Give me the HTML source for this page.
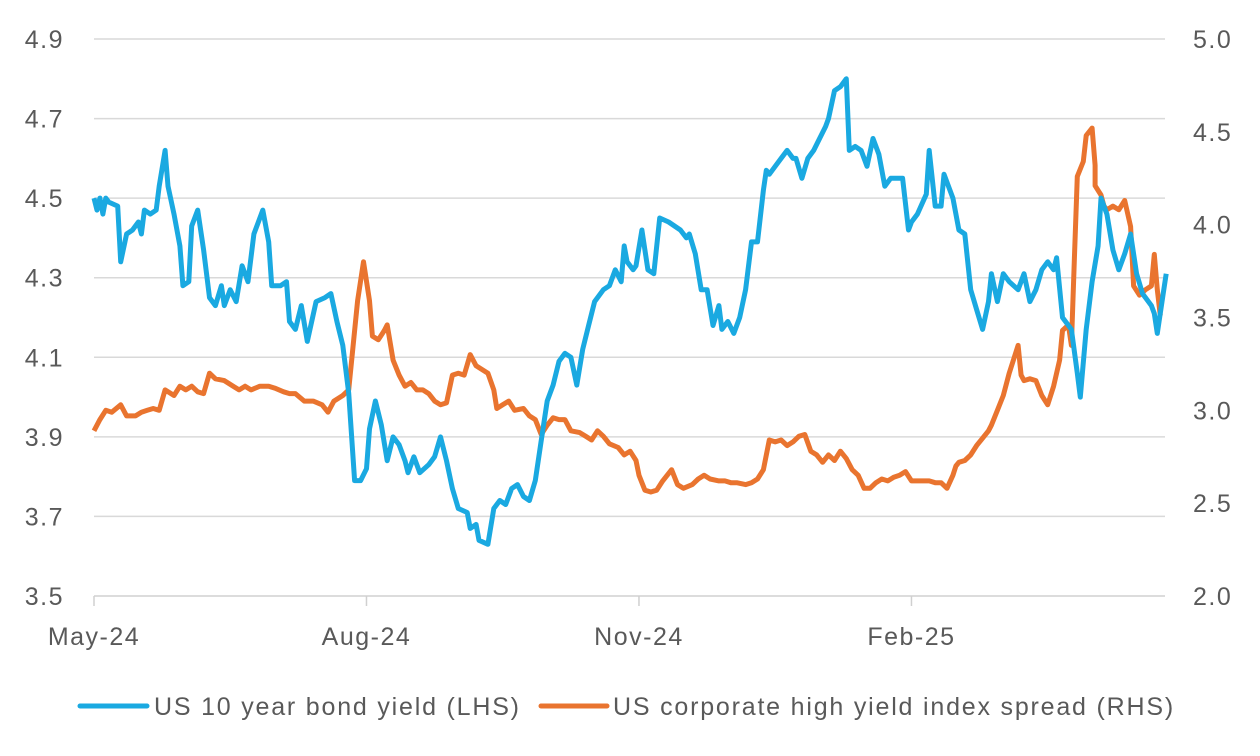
<!DOCTYPE html>
<html><head><meta charset="utf-8"><style>
html,body{margin:0;padding:0;background:#fff;width:1260px;height:756px;overflow:hidden}
svg text{font-family:"Liberation Sans",sans-serif;fill:#595959}
</style></head><body>
<svg id="chart" width="1260" height="756" xmlns="http://www.w3.org/2000/svg">
<g id="grid"></g>
<g id="axes"></g>
<g id="series"></g>
<g>
<line x1="80" y1="706" x2="147" y2="706" stroke="#1aa9e1" stroke-width="5" stroke-linecap="round"/>
<text x="154" y="715" font-size="25" letter-spacing="1.8">US 10 year bond yield (LHS)</text>
<line x1="541" y1="706" x2="607" y2="706" stroke="#e9742f" stroke-width="5" stroke-linecap="round"/>
<text x="613" y="715" font-size="25" letter-spacing="1.8">US corporate high yield index spread (RHS)</text>
</g>
</svg>
<script>
const leftTicks=[3.5,3.7,3.9,4.1,4.3,4.5,4.7,4.9];
const rightTicks=[2.0,2.5,3.0,3.5,4.0,4.5,5.0];
const monthLabels=["May-24","Aug-24","Nov-24","Feb-25"];
const monthDays=[0,92,184,276];
const blueDays=[0,1,2,3,4,5,8,9,11,13,15,16,17,19,21,22,24,25,27,29,30,32,33,35,37,39,41,43,44,46,48,50,52,54,57,59,60,63,65,66,68,70,72,75,78,80,82,84,86,88,90,92,93,95,97,99,101,103,105,106,108,110,113,115,117,119,121,123,126,127,129,130,133,135,137,139,141,143,145,147,149,151,153,155,157,159,161,163,165,167,169,172,174,176,178,179,180,182,183,185,187,189,191,194,196,198,200,201,203,205,207,209,211,212,214,216,218,220,222,224,226,227,228,230,232,234,236,237,239,241,243,245,247,248,250,252,254,255,257,259,261,263,265,267,269,271,273,275,276,278,281,282,284,286,287,290,292,294,296,298,300,302,303,305,307,309,312,314,316,318,320,322,324,325,327,330,332,333,335,337,339,340,342,344,346,348,350,352,354,357,358,359,361,362];
const blueVals=[4.50,4.47,4.50,4.46,4.50,4.49,4.48,4.34,4.41,4.42,4.44,4.41,4.47,4.46,4.47,4.53,4.62,4.53,4.46,4.38,4.28,4.29,4.43,4.47,4.37,4.25,4.23,4.28,4.23,4.27,4.24,4.33,4.29,4.41,4.47,4.39,4.28,4.28,4.29,4.19,4.17,4.23,4.14,4.24,4.25,4.26,4.19,4.13,4.01,3.79,3.79,3.82,3.92,3.99,3.93,3.84,3.90,3.88,3.84,3.81,3.85,3.81,3.83,3.85,3.90,3.84,3.77,3.72,3.71,3.67,3.68,3.64,3.63,3.72,3.74,3.73,3.77,3.78,3.75,3.74,3.79,3.89,3.99,4.03,4.09,4.11,4.10,4.03,4.12,4.18,4.24,4.27,4.28,4.32,4.29,4.38,4.34,4.32,4.33,4.42,4.32,4.31,4.45,4.44,4.43,4.42,4.40,4.41,4.36,4.27,4.27,4.18,4.23,4.17,4.19,4.16,4.20,4.27,4.39,4.39,4.52,4.57,4.56,4.58,4.60,4.62,4.60,4.60,4.55,4.60,4.62,4.65,4.68,4.70,4.77,4.78,4.80,4.62,4.63,4.62,4.58,4.65,4.61,4.53,4.55,4.55,4.55,4.42,4.44,4.46,4.51,4.62,4.48,4.48,4.56,4.50,4.42,4.41,4.27,4.22,4.17,4.24,4.31,4.24,4.31,4.29,4.27,4.31,4.24,4.27,4.32,4.34,4.32,4.35,4.20,4.17,4.06,4.00,4.17,4.29,4.38,4.50,4.46,4.37,4.32,4.36,4.41,4.31,4.26,4.23,4.21,4.16,4.26,4.31];
const orangeDays=[0,2,4,6,9,11,14,16,18,20,22,24,27,29,31,33,35,37,39,41,44,47,49,51,53,56,59,61,64,66,68,71,74,77,79,81,84,86,89,91,93,94,96,98,99,101,103,105,107,109,111,113,115,117,119,121,123,125,127,129,131,133,135,136,138,140,142,145,147,149,151,153,155,157,159,161,164,166,168,170,172,174,177,179,181,183,184,186,188,190,192,195,197,199,202,204,206,208,211,213,215,217,220,222,224,226,228,230,232,234,236,238,240,242,244,246,248,250,252,254,256,258,260,262,264,266,268,270,272,274,276,278,280,282,284,286,288,290,291,292,294,296,298,300,302,303,305,307,309,312,313,314,316,318,320,322,324,326,327,329,330,331,332,334,335,337,338,338,340,341,342,344,346,348,350,351,353,355,357,358,359,360,361,362];
const orangeVals=[2.89,2.95,3.00,2.99,3.03,2.97,2.97,2.99,3.00,3.01,3.00,3.11,3.08,3.13,3.11,3.13,3.10,3.09,3.20,3.17,3.16,3.13,3.11,3.13,3.11,3.13,3.13,3.12,3.10,3.09,3.09,3.05,3.05,3.03,2.99,3.05,3.08,3.11,3.59,3.80,3.59,3.40,3.38,3.43,3.46,3.27,3.19,3.13,3.15,3.11,3.11,3.09,3.05,3.03,3.04,3.19,3.20,3.19,3.30,3.24,3.22,3.20,3.11,3.01,3.03,3.05,3.00,3.01,2.97,2.95,2.87,2.92,2.96,2.95,2.95,2.89,2.88,2.86,2.84,2.89,2.86,2.82,2.80,2.76,2.78,2.73,2.65,2.57,2.56,2.57,2.62,2.68,2.60,2.58,2.60,2.63,2.65,2.63,2.62,2.62,2.61,2.61,2.60,2.61,2.63,2.68,2.84,2.83,2.84,2.81,2.83,2.86,2.87,2.78,2.76,2.72,2.76,2.73,2.78,2.74,2.68,2.65,2.58,2.58,2.61,2.63,2.62,2.64,2.65,2.67,2.62,2.62,2.62,2.62,2.61,2.61,2.58,2.65,2.70,2.72,2.73,2.76,2.81,2.85,2.89,2.92,3.00,3.08,3.20,3.35,3.19,3.16,3.17,3.16,3.08,3.03,3.13,3.27,3.43,3.46,3.35,3.82,4.26,4.34,4.48,4.52,4.32,4.21,4.16,4.10,4.08,4.10,4.08,4.13,3.99,3.67,3.62,3.65,3.67,3.84,3.65,3.51];

const X0=94,X1=1165,Y0=596,Y1=39,DMAX=361.6;
const xs=d=>X0+(d/DMAX)*(X1-X0);
const yL=v=>Y0-(v-3.5)/(4.9-3.5)*(Y0-Y1);
const yR=v=>Y0-(v-2.0)/(5.0-2.0)*(Y0-Y1);
const NS="http://www.w3.org/2000/svg";
function mk(tag,attrs,parent){const e=document.createElementNS(NS,tag);for(const k in attrs)e.setAttribute(k,attrs[k]);parent.appendChild(e);return e;}
const grid=document.getElementById('grid'),axes=document.getElementById('axes'),series=document.getElementById('series');
leftTicks.forEach((t,i)=>{
  const y=yL(t);
  if(i>0){const g=mk('line',{x1:X0,x2:X1,y1:y,y2:y,stroke:'#d9d9d9','stroke-width':1.5},grid);
  
  }
  const tx=mk('text',{x:64,y:y+9,'text-anchor':'end','font-size':25,'letter-spacing':1.5},axes);tx.textContent=t.toFixed(1);
  
  
});
rightTicks.forEach(t=>{
  const tx=mk('text',{x:1193,y:yR(t)+9,'font-size':25,'letter-spacing':1.5},axes);tx.textContent=t.toFixed(1);
  
  
});
const ax=mk('line',{x1:X0,x2:X1,y1:Y0,y2:Y0,stroke:'#d0d0d0','stroke-width':1.5},axes);


monthDays.forEach((d,i)=>{
  const x=xs(d);
  const tk=mk('line',{x1:x,x2:x,y1:Y0,y2:Y0+10,stroke:'#d0d0d0','stroke-width':1.5},axes);
  
  
  const tx=mk('text',{x:x,y:645,'text-anchor':'middle','font-size':25,'letter-spacing':1.5},axes);tx.textContent=monthLabels[i];
  
  
});
function path(days,vals,yf){const n=Math.min(days.length,vals.length);let s='';for(let i=0;i<n;i++)s+=(i?'L':'M')+xs(days[i]).toFixed(1)+','+yf(vals[i]).toFixed(1);return s;}
const po=mk('path',{d:path(orangeDays,orangeVals,yR),fill:'none',stroke:'#e9742f','stroke-width':5,'stroke-linejoin':'round'},series);


const pb=mk('path',{d:path(blueDays,blueVals,yL),fill:'none',stroke:'#1aa9e1','stroke-width':5,'stroke-linejoin':'round'},series);


</script>
</body></html>
